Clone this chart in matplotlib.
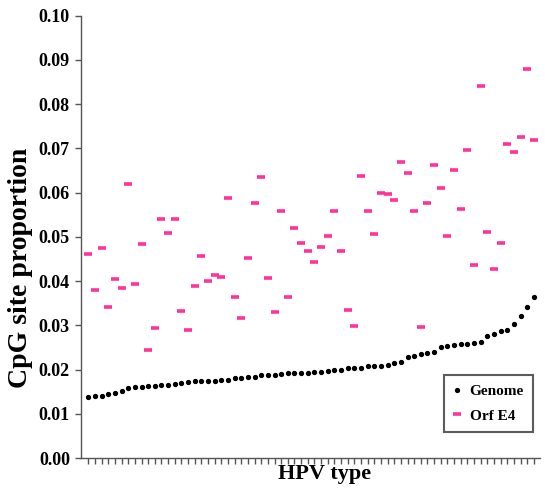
import matplotlib
matplotlib.use("Agg")
import matplotlib.pyplot as plt

# ---------------- DATA ----------------
# one entry per HPV type, sorted by genome CpG proportion
genome = [
    0.0138, 0.0139, 0.0141, 0.0145, 0.0146, 0.0151, 0.0158, 0.0161, 0.0161, 0.0162,
    0.0163, 0.0164, 0.0165, 0.0167, 0.0169, 0.0171, 0.0173, 0.0173, 0.0174, 0.0175,
    0.0176, 0.0176, 0.0180, 0.0180, 0.0182, 0.0184, 0.0188, 0.0188, 0.0188, 0.0190,
    0.0191, 0.0192, 0.0193, 0.0193, 0.0194, 0.0194, 0.0197, 0.0198, 0.0200, 0.0203,
    0.0203, 0.0204, 0.0207, 0.0207, 0.0209, 0.0210, 0.0214, 0.0216, 0.0228, 0.0231,
    0.0235, 0.0237, 0.0240, 0.0250, 0.0254, 0.0255, 0.0257, 0.0258, 0.0259, 0.0263,
    0.0276, 0.0281, 0.0286, 0.0290, 0.0302, 0.0320, 0.0342, 0.0365,
]

orf_e4 = [
    0.0462, 0.0379, 0.0474, 0.0341, 0.0405, 0.0385, 0.0620, 0.0394, 0.0483, 0.0244,
    0.0293, 0.0541, 0.0508, 0.0541, 0.0333, 0.0290, 0.0389, 0.0457, 0.0399, 0.0413,
    0.0410, 0.0587, 0.0365, 0.0317, 0.0452, 0.0576, 0.0636, 0.0407, 0.0330, 0.0559,
    0.0365, 0.0520, 0.0487, 0.0468, 0.0443, 0.0477, 0.0501, 0.0559, 0.0467, 0.0335,
    0.0299, 0.0638, 0.0559, 0.0506, 0.0600, 0.0597, 0.0582, 0.0670, 0.0645, 0.0559,
    0.0297, 0.0576, 0.0662, 0.0610, 0.0501, 0.0652, 0.0562, 0.0697, 0.0436, 0.0840,
    0.0510, 0.0428, 0.0485, 0.0710, 0.0692, 0.0725, 0.0880, 0.0718,
]

y_ticks = [0.00, 0.01, 0.02, 0.03, 0.04, 0.05, 0.06, 0.07, 0.08, 0.09, 0.10]

# ---------------- GRAPH ----------------
plt.rcParams["font.family"] = ["Liberation Serif", "DejaVu Serif"]
plt.rcParams["font.weight"] = "bold"

fig = plt.figure(figsize=(5.45, 4.9), dpi=100)
ax = fig.add_axes([0.1486, 0.0653, 0.842, 0.903])

types = list(range(len(genome)))

ax.plot(types, genome, linestyle="none", marker="o", markersize=2.8,
        color="black", label="Genome")
ax.plot(types, orf_e4, linestyle="none", marker="_", markersize=5.5,
        markeredgewidth=2.6, color="#ff3399", label="Orf E4")

ax.set_xlim(-1.1, 67.9)
ax.set_ylim(0, 0.10)
ax.set_yticks(y_ticks)
ax.set_yticklabels([f"{v:.2f}" for v in y_ticks], fontsize=13, fontweight="bold")
ax.set_xticks(types)
ax.set_xticklabels([])

ax.spines["top"].set_visible(False)
ax.spines["right"].set_visible(False)
for side in ["left", "bottom"]:
    ax.spines[side].set_color("#555555")
    ax.spines[side].set_linewidth(1.0)
ax.tick_params(axis="y", direction="out", length=4, width=1, color="#555555", pad=4)
ax.tick_params(axis="x", direction="out", length=4, width=1, color="#555555")

ax.set_ylabel("CpG site proportion", fontsize=20, fontweight="bold")
ax.yaxis.set_label_coords(-0.105, 0.43)
ax.set_xlabel("HPV type", fontsize=16, fontweight="bold")
ax.xaxis.set_label_coords(0.53, -0.013)

leg = ax.legend(loc="lower right", bbox_to_anchor=(0.985, 0.059), fancybox=False,
                prop={"size": 11, "weight": "bold"}, handlelength=0.6,
                handletextpad=0.5, borderpad=0.6, labelspacing=0.7,
                borderaxespad=0)
leg.get_frame().set_edgecolor("#333333")
leg.get_frame().set_linewidth(1.5)

fig.savefig("out.png", dpi=100)
